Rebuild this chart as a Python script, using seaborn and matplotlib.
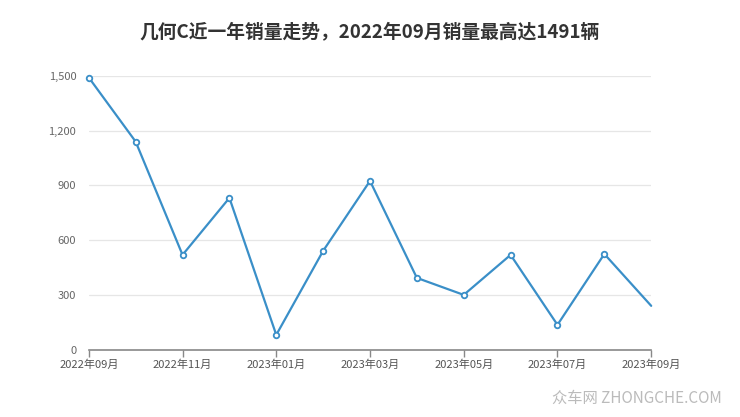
import matplotlib
matplotlib.use("Agg")
import matplotlib.pyplot as plt
import seaborn as sns
import pandas as pd

months = ["2022年09月", "2022年10月", "2022年11月", "2022年12月", "2023年01月", "2023年02月",
          "2023年03月", "2023年04月", "2023年05月", "2023年06月", "2023年07月", "2023年08月", "2023年09月"]
sales = [1491, 1140, 520, 832, 82, 542, 925, 394, 301, 520, 137, 525, 241]
yticks = [0, 300, 600, 900, 1200, 1500]
ytick_labels = ["0", "300", "600", "900", "1,200", "1,500"]

sns.set_theme(style="white")
plt.rcParams['font.family'] = ['Noto Sans CJK SC', 'DejaVu Sans']

df = pd.DataFrame({"idx": range(len(months)), "month": months, "sales": sales})

fig = plt.figure(figsize=(7.4, 4.17), dpi=100)
ax = fig.add_axes([0.120, 0.161, 0.760, 0.657])

color = "#3a8fc8"
sns.lineplot(data=df, x="idx", y="sales", ax=ax, color=color, linewidth=1.6,
             marker="o", markersize=4, markerfacecolor="white", markeredgecolor=color,
             markeredgewidth=1.3, markevery=list(range(len(months) - 1)), clip_on=False, zorder=3)

ax.set_xlim(0, len(months) - 1)
ax.set_ylim(0, 1500)
ax.set_yticks(yticks)
ax.set_yticklabels(ytick_labels)
xt = list(range(0, len(months), 2))
ax.set_xticks(xt)
ax.set_xticklabels([months[i] for i in xt])
ax.set_xlabel("")
ax.set_ylabel("")

for y in yticks[1:]:
    ax.axhline(y, color="#e6e6e6", linewidth=0.9, zorder=1)

for s in ["top", "right", "left"]:
    ax.spines[s].set_visible(False)
ax.spines["bottom"].set_color("#888888")
ax.spines["bottom"].set_linewidth(1.2)

ax.tick_params(axis="x", which="major", length=5, color="#888888", width=1, labelsize=8,
               labelcolor="#555555", pad=2, bottom=True)
ax.tick_params(axis="y", length=0, labelsize=8, labelcolor="#666666", pad=9)

fig.text(0.5, 0.925, "几何C近一年销量走势，2022年09月销量最高达1491辆", ha="center", va="center",
         fontsize=13.5, fontweight="bold", color="#333333")
fig.text(0.975, 0.045, "众车网 ZHONGCHE.COM", ha="right", va="center", fontsize=11,
         color="#bbbbbb")

fig.savefig("out.png", dpi=100)
